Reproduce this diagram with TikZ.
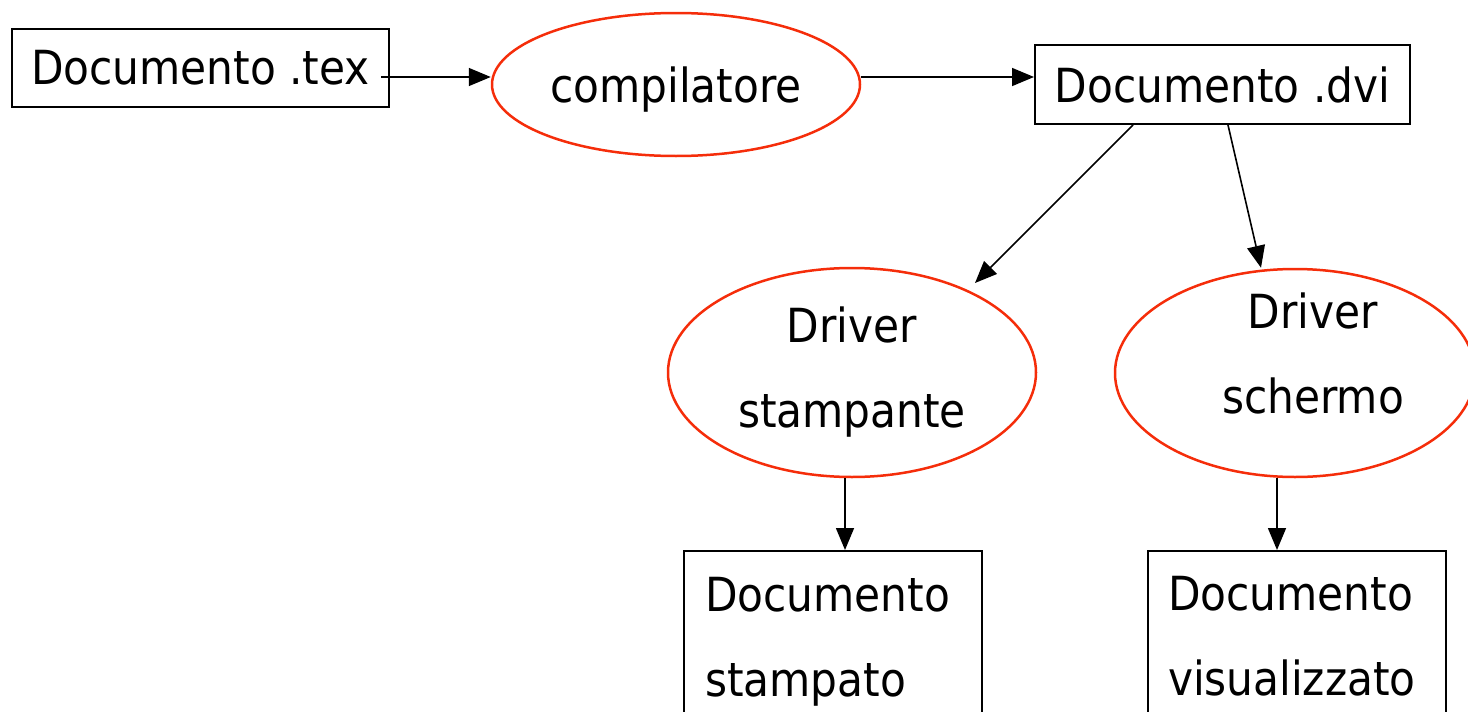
\documentclass[tikz,border=0pt]{standalone}
\usepackage{fontspec}
\setmainfont{DejaVu Sans Condensed}
\usetikzlibrary{shapes.geometric,arrows.meta}

\definecolor{ovalred}{RGB}{245,45,10}

\tikzset{
  docbox/.style={rectangle,draw,line width=2pt,inner sep=0pt},
  outbox/.style={docbox,minimum width=298pt,align=left},
  procoval/.style={ellipse,draw=ovalred,line width=2.5pt,inner sep=0pt,align=center},
  flow/.style={line width=1.6pt,-{Triangle[length=22pt,width=18pt]}}
}

\begin{document}
\begin{tikzpicture}[x=1pt,y=-1pt,
    every node/.style={font=\fontsize{47}{85}\selectfont}]
    \clip (0,0) rectangle (1468,712);

    % Source and compiler
    \node (tex) at (200.5,68) [docbox,minimum width=377pt,minimum height=78pt] {Documento .tex};
    \node (comp) at (676,84.5) [procoval,minimum width=368pt,minimum height=143pt,text height=46pt] {compilatore};
    \node (dvi) at (1222.5,84.5) [docbox,minimum width=375pt,minimum height=79pt] {Documento .dvi};

    % Drivers
    \node (drvP) at (852,372.5) [procoval,minimum width=368pt,minimum height=209pt] {Driver\\stampante};
    \node (drvS) at (1295,373) [procoval,minimum width=360pt,minimum height=208pt,
      text height=80pt,text depth=0pt] {\hspace*{36pt}Driver\\\hspace*{36pt}schermo};

    % Outputs
    \node (outP) at (833,641.5) [outbox,minimum height=181pt,text width=256pt] {Documento\\stampato};
    \node (outV) at (1297,636) [outbox,minimum height=170pt,text width=258pt] {Documento\\visualizzato};

    % Transfers
    \draw[flow] ([xshift=-9pt,yshift=-9pt]tex.east) -- ([yshift=7.5pt]comp.west);
    \draw[flow] ([yshift=7.5pt]comp.east) -- ([yshift=7.5pt]dvi.west);
    \draw[flow] ([xshift=-89.5pt]dvi.south) -- ([xshift=123pt,yshift=89.5pt]drvP.center);
    \draw[flow] ([xshift=5.5pt]dvi.south) -- ([xshift=-34pt]drvS.north);
    \draw[flow] ([xshift=-7pt]drvP.south) -- ([xshift=12pt]outP.north);
    \draw[flow] ([xshift=-18pt]drvS.south) -- ([xshift=-20pt]outV.north);
\end{tikzpicture}
\end{document}
